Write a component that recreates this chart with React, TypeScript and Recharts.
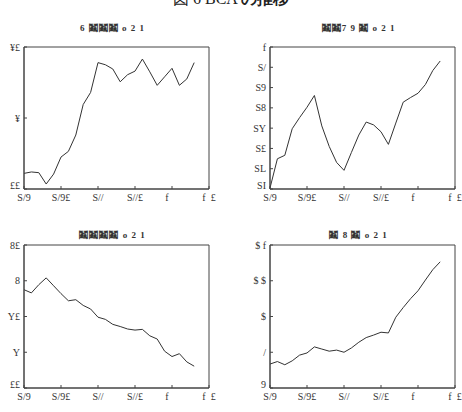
import React from 'react';
import { LineChart, Line, XAxis, YAxis, ReferenceArea } from 'recharts';

// x axis: 24 points, ticks every 5 points
const xTicks = [0, 5, 10, 15, 20, 25];
const xLabels = ['S/9', 'S/9£', 'S//', 'S//£', 'f\u00a0\u00a0\u00a0\u00a0', 'f\u00a0\u00a0£'];

const topLeftValues = [0.22, 0.24, 0.23, 0.07, 0.21, 0.45, 0.53, 0.76, 1.19, 1.36, 1.78, 1.75, 1.69, 1.51, 1.61, 1.66, 1.83, 1.65, 1.46, 1.58, 1.7, 1.46, 1.55, 1.78];
const topLeftTicks = ['££', '¥', '¥£'];

const topRightValues = [0.05, 1.49, 1.66, 2.97, 3.52, 4.03, 4.61, 3.11, 2.1, 1.31, 0.92, 1.8, 2.66, 3.3, 3.16, 2.82, 2.2, 3.25, 4.28, 4.51, 4.72, 5.15, 5.84, 6.31];
const topRightTicks = ['SI', 'SL', 'S£', 'SY', 'S8', 'S9', 'S/', 'f'];

const bottomLeftValues = [2.75, 2.66, 2.89, 3.08, 2.86, 2.64, 2.44, 2.47, 2.31, 2.21, 1.98, 1.92, 1.78, 1.72, 1.65, 1.62, 1.64, 1.46, 1.37, 1.03, 0.88, 0.96, 0.73, 0.61];
const bottomLeftTicks = ['££', 'Y', 'Y£', '8', '8£'];

const bottomRightValues = [0.67, 0.74, 0.65, 0.76, 0.92, 0.98, 1.15, 1.09, 1.03, 1.06, 1.0, 1.12, 1.28, 1.41, 1.48, 1.56, 1.54, 1.98, 2.25, 2.5, 2.72, 3.02, 3.31, 3.53];
const bottomRightTicks = ['9', '/', '$', '$ $', '$ f'];

const titles = ['6 鬮鬮鬮 o 2 1', '鬮鬮7 9 鬮 o 2 1', '鬮鬮鬮鬮 o 2 1', '鬮 8 鬮 o 2 1'];

const font = 'Liberation Serif, DejaVu Serif, serif';
const tickStyle = { fontSize: 10, fill: '#333', fontFamily: font };

interface PanelProps {
  values: number[];
  yTicks: string[];
  title: string;
  left: number;
  top: number;
  height: number;
  marginTop: number;
  titleY: number;
}

const Panel: React.FC<PanelProps> = ({ values, yTicks, title, left, top, height, marginTop, titleY }) => {
  const data = values.map((v, i) => ({ i, v }));
  const yMax = yTicks.length - 1;
  const yTickValues = yTicks.map((_, i) => i);

  // lowest y label sits a little above the corner, as in the scan
  const renderYTick = (props: any) => {
    const { x, y, payload } = props;
    const lift = payload.value === 0 ? -4 : 0;
    return (
      <text x={x} y={y + lift} dy="0.35em" textAnchor="end" {...tickStyle}>
        {yTicks[payload.value]}
      </text>
    );
  };

  return (
    <div style={{ position: 'absolute', left, top, width: 231, height }}>
      <div
        style={{
          position: 'absolute', left: 20, width: 185, top: titleY - 7, height: 14, lineHeight: '14px',
          textAlign: 'center', fontSize: 9, fontFamily: font, color: '#333', fontWeight: 'bold', letterSpacing: 1,
        }}
      >
        {title}
      </div>
      <LineChart width={231} height={height} data={data} margin={{ top: marginTop, right: 22, bottom: 0, left: 0 }}>
        <XAxis
          dataKey="i" type="number" domain={[0, 25]} ticks={xTicks} interval={0}
          tickFormatter={(v: number) => xLabels[xTicks.indexOf(v)]}
          tick={tickStyle} tickSize={-3} tickMargin={8} height={22} stroke="#444"
        />
        <YAxis
          type="number" domain={[0, yMax]} ticks={yTickValues} interval={0}
          tick={renderYTick} tickSize={-3} tickMargin={7} width={24} stroke="#444"
        />
        <ReferenceArea x1={0} x2={25} y1={0} y2={yMax} fill="none" stroke="#444" strokeWidth={1} ifOverflow="visible" />
        <Line dataKey="v" type="linear" stroke="#333" strokeWidth={1} dot={false} isAnimationActive={false} />
      </LineChart>
    </div>
  );
};

export default function App() {
  return (
    <div style={{ position: 'absolute', left: 0, top: 0, width: 462, height: 412, overflow: 'hidden', background: '#fff' }}>
      <div
        style={{
          position: 'absolute', left: 0, width: 462, top: -11, height: 20, lineHeight: '20px',
          textAlign: 'center', fontSize: 16, fontFamily: font, color: '#222',
        }}
      >
        図 6 BCA <b>の推移</b>
      </div>
      <Panel values={topLeftValues} yTicks={topLeftTicks} title={titles[0]} left={0} top={0} height={211} marginTop={47} titleY={28} />
      <Panel values={topRightValues} yTicks={topRightTicks} title={titles[1]} left={246} top={0} height={211} marginTop={47} titleY={28} />
      <Panel values={bottomLeftValues} yTicks={bottomLeftTicks} title={titles[2]} left={0} top={210} height={200} marginTop={35} titleY={25} />
      <Panel values={bottomRightValues} yTicks={bottomRightTicks} title={titles[3]} left={246} top={210} height={200} marginTop={35} titleY={25} />
    </div>
  );
}
